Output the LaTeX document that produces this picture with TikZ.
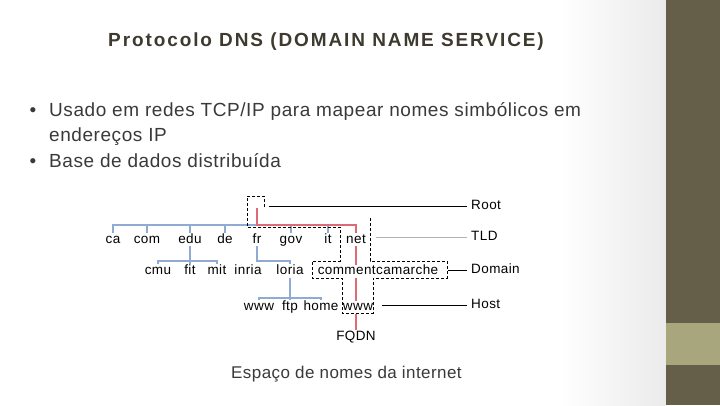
\documentclass[tikz,border=0pt]{standalone}
\usepackage{fontspec}
\setmainfont{Liberation Sans}
\usetikzlibrary{backgrounds}

\definecolor{oliva}{HTML}{655E48}
\definecolor{olivaclara}{HTML}{A8A67D}
\definecolor{titulo}{HTML}{3E3A2F}
\definecolor{texto}{HTML}{3A3A3A}
\definecolor{rama}{HTML}{8FAAD3}
\definecolor{fqdn}{HTML}{DE6A73}

\tikzset{
  etiq/.style={font=\fontsize{13.5}{14}\selectfont\addfontfeatures{LetterSpace=3},
    anchor=base, inner sep=1pt, text height=9pt, text depth=2pt, fill=white},
  nivel/.style={etiq, anchor=base west},
  rama/.style={draw=rama, line width=1.2pt},
  ruta/.style={draw=fqdn, line width=1.1pt},
  contorno/.style={draw=black, line width=0.8pt, dash pattern=on 3pt off 2pt},
  linea/.style={text=texto, anchor=base west, inner sep=0pt,
    font=\fontsize{19}{22}\selectfont\addfontfeatures{LetterSpace=3}}
}

\begin{document}
\begin{tikzpicture}[x=1pt, y=-1pt]
        \useasboundingbox (0,0) rectangle (720,405);
        % Fondo
        \begin{pgfonlayer}{background}
        \fill[white] (0,0) rectangle (720,405);
        \shade[left color=white, right color=black!8] (560,0) rectangle (666,405);
        \fill[oliva] (666,0) rectangle (720,405);
        \fill[olivaclara] (666,323) rectangle (720,365);
        \end{pgfonlayer}

        % Titulo y texto
        \node[text=titulo, anchor=base west, inner sep=0pt,
          font=\fontsize{19}{21}\selectfont\bfseries\addfontfeatures{LetterSpace=10}]
          (titulo) at (108,46) {Protocolo DNS (DOMAIN NAME SERVICE)};
        \node[linea, anchor=base] (bala1) at (33,116.5) {•};
        \node[linea] (linea1) at (49,116.5) {Usado em redes TCP/IP para mapear nomes simbólicos em};
        \node[linea] (linea2) at (49,141.7) {endereços IP};
        \node[linea, anchor=base] (bala2) at (33,167) {•};
        \node[linea] (linea3) at (49,167) {Base de dados distribuída};
        \node[linea, font=\fontsize{17}{20}\selectfont\addfontfeatures{LetterSpace=2.5}]
          (pie) at (231,378) {Espaço de nomes da internet};

        % Arbol de nombres
        \coordinate (raiz) at (257,208);
        \coordinate (barratld) at (0,225);
        \coordinate (barradom) at (0,261);
        \coordinate (barrahost) at (0,298);
        \node[etiq] (ca) at (113,243) {ca};
        \node[etiq] (com) at (147,243) {com};
        \node[etiq] (edu) at (190,243) {edu};
        \node[etiq] (de) at (225,243) {de};
        \node[etiq] (fr) at (257,243) {fr};
        \node[etiq] (gov) at (291,243) {gov};
        \node[etiq] (it) at (328,243) {it};
        \node[etiq] (net) at (356,243) {net};
        \node[etiq] (cmu) at (158,274.5) {cmu};
        \node[etiq] (fit) at (190,274.5) {fit};
        \node[etiq] (mit) at (217,274.5) {mit};
        \node[etiq] (inria) at (248,274.5) {inria};
        \node[etiq] (loria) at (290,274.5) {loria};
        \node[etiq] (ccm) at (378,274.5) {commentcamarche};
        \node[etiq] (www) at (259,310.5) {www};
        \node[etiq] (ftp) at (290,310.5) {ftp};
        \node[etiq] (home) at (321,310.5) {home};
        \node[etiq] (wwwccm) at (358,310.5) {www};
        \node[etiq] (fqdnlbl) at (356,340) {FQDN};

        % Niveles
        \node[nivel] (rootlbl) at (470,209.5) {Root};
        \node[nivel] (tldlbl) at (470,240.5) {TLD};
        \node[nivel] (domlbl) at (470,273.5) {Domain};
        \node[nivel] (hostlbl) at (470,308.5) {Host};

        \begin{pgfonlayer}{background}
        % Ramas
        \draw[rama] (ca.north) |- (net.north |- barratld);
        \foreach \n in {com,edu,de,gov,it}
          \draw[rama] (\n.north) -- (\n.north |- barratld);
        \draw[rama] (edu.south) -- (edu.south |- barradom);
        \draw[rama] (cmu.north) |- (mit.north |- barradom) -- (mit.north);
        \draw[rama] (fit.north) -- (fit.north |- barradom);
        \draw[rama] (fr.south) |- (loria.north |- barradom) -- (loria.north);
        \draw[rama] (loria.south) -- (ftp.north);
        \draw[rama] (www.north) |- (home.north |- barrahost) -- (home.north);
        % Camino FQDN
        \draw[ruta] (raiz) -- (raiz |- barratld) -| (fqdnlbl.north);
        \end{pgfonlayer}

        % Contorno punteado
        \draw[contorno] (264,207) -- (264,196) -- (247,196) -- (247,227) -- (340,227)
          -- (340,261) -- (312,261) -- (312,278) -- (342,278) -- (342,313) -- (373,313)
          -- (373,278) -- (447,278) -- (447,261) -- (370,261) -- (370,218);

        % Lineas de nivel
        \draw[line width=0.9pt, shorten <=3pt, shorten >=12pt] (rootlbl.west) -- (rootlbl.west -| raiz);
        \draw[black!30, line width=0.9pt, shorten <=3pt, shorten >=9pt] (tldlbl.west) -- (tldlbl.west -| net.east);
        \draw[line width=0.9pt, shorten <=3pt, shorten >=9pt] (domlbl.west) -- (domlbl.west -| ccm.east);
        \draw[line width=0.9pt, shorten <=3pt, shorten >=8pt] (hostlbl.west) -- (hostlbl.west -| wwwccm.east);
\end{tikzpicture}
\end{document}
